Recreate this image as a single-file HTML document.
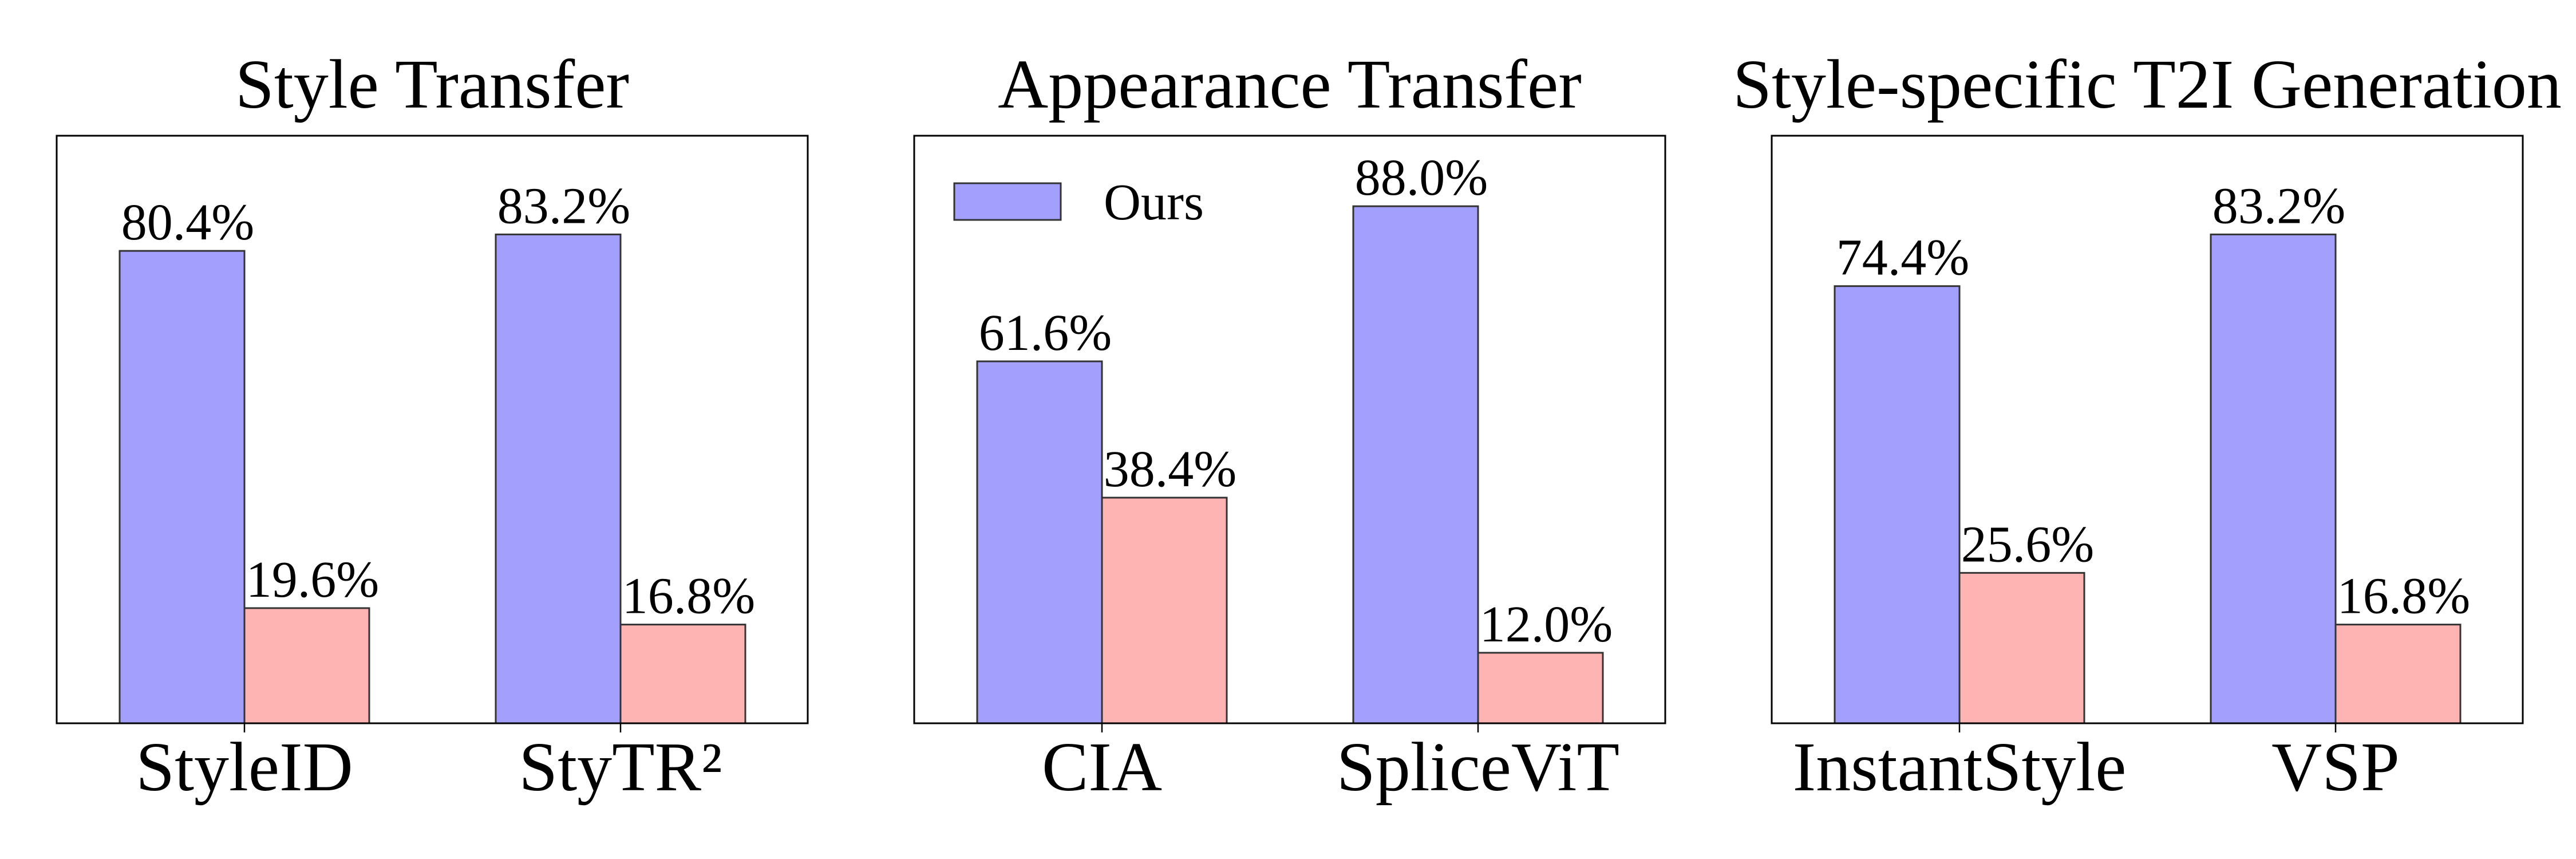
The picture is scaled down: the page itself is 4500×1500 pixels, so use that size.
<!DOCTYPE html>
<html><head><meta charset="utf-8"><style>
html,body{margin:0;padding:0;background:#fff}
svg{display:block}
text{font-family:"Liberation Serif",serif;fill:#000}
</style></head><body>
<svg id="chart" width="4500" height="1500" viewBox="0 0 4500 1500" xmlns="http://www.w3.org/2000/svg"></svg>
<script>
const panelTitles = ["Style Transfer", "Appearance Transfer", "Style-specific T2I Generation"];
const categories = [["StyleID", "StyTR²"], ["CIA", "SpliceViT"], ["InstantStyle", "VSP"]];
const oursValues = [[80.4, 83.2], [61.6, 88.0], [74.4, 83.2]];
const otherValues = [[19.6, 16.8], [38.4, 12.0], [25.6, 16.8]];
const yMax = 100;

const NS = "http://www.w3.org/2000/svg";
const svg = document.getElementById("chart");
function mk(tag, attrs, parent) {
  const e = document.createElementNS(NS, tag);
  for (const k in attrs) e.setAttribute(k, attrs[k]);
  (parent || svg).appendChild(e);
  return e;
}
const axTop = 237, axBottom = 1263, axW = 1312, barW = 218;
const panelLeft = p => 99 + p * 1498;
const yPix = v => axBottom - (v / yMax) * (axBottom - axTop);
const xCenter = (p, i) => panelLeft(p) + 328 + i * 657;

for (let p = 0; p < panelTitles.length; p++) {
  const g = mk("g", {});
  
  
  const L = panelLeft(p);
  const t = mk("text", {x: L + axW / 2, y: 188, "font-size": 122, "text-anchor": "middle"}, g);
  t.textContent = panelTitles[p];
  
  
  for (let i = 0; i < categories[p].length; i++) {
    const cx = xCenter(p, i);
    const vals = [oursValues[p][i], otherValues[p][i]];
    const fills = ["#a3a0fd", "#ffb4b4"];
    for (let s = 0; s < 2; s++) {
      const x0 = s === 0 ? cx - barW : cx;
      const top = yPix(vals[s]);
      const r = mk("rect", {x: x0, y: top, width: barW, height: axBottom - top, fill: fills[s], stroke: "#333", "stroke-width": 3}, g);
      
      
      const lb = mk("text", {x: x0 + barW / 2 + 10, y: top - 20, "font-size": 90, "text-anchor": "middle"}, g);
      lb.textContent = vals[s].toFixed(1) + "%";
      
      
    }
    const tk = mk("line", {x1: cx, x2: cx, y1: axBottom, y2: axBottom + 16, stroke: "#000", "stroke-width": 2.5}, g);
    
    
    const tl = mk("text", {x: cx, y: 1380, "font-size": 122, "text-anchor": "middle"}, g);
    tl.textContent = categories[p][i];
    
    
  }
  const fr = mk("rect", {x: L, y: axTop, width: axW, height: axBottom - axTop, fill: "none", stroke: "#000", "stroke-width": 3}, g);
  
  
}
// legend in middle panel
const lg = mk("g", {});


const lp = mk("rect", {x: 1667, y: 320, width: 186, height: 64, fill: "#a3a0fd", stroke: "#333", "stroke-width": 3}, lg);


const lt = mk("text", {x: 1928, y: 383, "font-size": 90}, lg);
lt.textContent = "Ours";


</script>
</body></html>
